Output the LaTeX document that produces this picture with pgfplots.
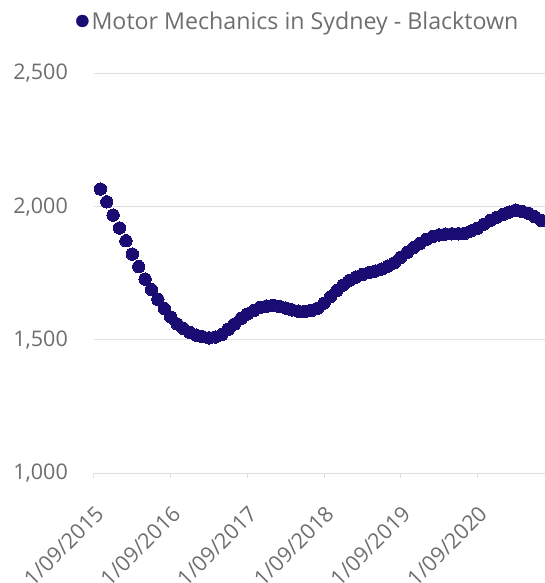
\documentclass[border=0pt]{standalone}
\usepackage{fontspec}
\setmainfont{Open Sans}
\usepackage{pgfplots}
\pgfplotsset{compat=1.18}
\definecolor{navy}{RGB}{25,13,115}
\definecolor{txt}{RGB}{110,110,110}
\definecolor{gridc}{RGB}{224,224,224}
\begin{document}
\begin{tikzpicture}
\begin{axis}[name=ax, scale only axis, width=451bp, height=400bp,
  xmin=0, xmax=70.58, ymin=1000, ymax=2500,
  axis x line*=bottom, axis y line*=left,
  y axis line style={draw=none}, ytick style={draw=none},
  x axis line style={draw=gridc, line width=1bp},
  xtick style={draw=gridc, line width=1bp},
  tick align=outside, major tick length=5bp,
  ytick={1000,1500,2000,2500}, ymajorgrids,
  major grid style={draw=gridc, line width=1bp},
  xtick={0,12,24,36,48,60},
  xticklabels={1/09/2015,1/09/2016,1/09/2017,1/09/2018,1/09/2019,1/09/2020},
  /pgf/number format/assume math mode=true,
  /pgf/number format/1000 sep={,},
  scaled y ticks=false,
  ticklabel style={font=\fontsize{21.5bp}{25bp}\selectfont, text=txt},
  yticklabel style={anchor=east, inner sep=0pt, xshift=-21bp},
  xticklabel style={inner sep=0pt, xshift=0bp, yshift=-26bp, rotate=45, anchor=north east},
  legend entries={Motor Mechanics in Sydney - Blacktown},
  legend style={draw=none, fill=none, at={(-0.04,1.1308)}, anchor=west, inner sep=0pt,
    font=\fontsize{23.2bp}{27bp}\selectfont, text=txt},
  legend image code/.code={\fill[navy] (6bp,0) circle (6bp); \path (13bp,0);},
  clip=true,
]
\addplot[only marks, mark=*, mark size=6.2bp, mark options={fill=navy, draw=navy, line width=0pt}] coordinates {
(1,2066)(2,2018)(3,1968)(4,1920)(5,1872)(6,1822)(7,1775)(8,1728)(9,1689)(10,1652)
(11,1618)(12,1586)(13,1560)(14,1543)(15,1528)(16,1518)(17,1512)(18,1508)(19,1511)(20,1520)
(21,1540)(22,1560)(23,1580)(24,1597)(25,1610)(26,1622)(27,1627)(28,1630)(29,1626)(30,1620)
(31,1613)(32,1608)(33,1606)(34,1610)(35,1619)(36,1638)(37,1662)(38,1685)(39,1706)(40,1724)
(41,1736)(42,1745)(43,1752)(44,1758)(45,1766)(46,1777)(47,1789)(48,1810)(49,1828)(50,1846)
(51,1862)(52,1877)(53,1888)(54,1894)(55,1897)(56,1898)(57,1898)(58,1900)(59,1909)(60,1919)
(61,1934)(62,1948)(63,1960)(64,1970)(65,1980)(66,1987)(67,1982)(68,1975)(69,1962)(70,1948)
};
\end{axis}
\pgfresetboundingbox
\path[use as bounding box] ([xshift=-94bp,yshift=-109.7bp]ax.south west) rectangle ([yshift=73.3bp]ax.north east);
\end{tikzpicture}
\end{document}
